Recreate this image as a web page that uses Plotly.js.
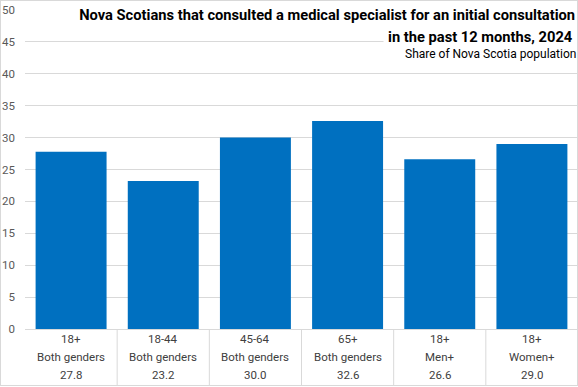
<!DOCTYPE html>
<html>
<head>
<meta charset="utf-8">
<script src="https://cdn.plot.ly/plotly-3.0.1.min.js"></script>
<style>
  html, body { margin: 0; padding: 0; background: #fff; }
  #wrap { position: relative; width: 578px; height: 387px; }
  #chart { width: 578px; height: 387px; }
  #frame { position: absolute; left: 0; top: 0; width: 578px; height: 386px; box-sizing: border-box; border: 1px solid #d9d9d9; pointer-events: none; }
</style>
</head>
<body>
<div id="wrap"><div id="chart"></div><div id="frame"></div></div>
<script>
// Data
const ageGroups = ["18+", "18-44", "45-64", "65+", "18+", "18+"];
const genders = ["Both genders", "Both genders", "Both genders", "Both genders", "Men+", "Women+"];
const shares = [27.8, 23.2, 30.0, 32.6, 26.6, 29.0];
const yTicks = [0, 5, 10, 15, 20, 25, 30, 35, 40, 45, 50];
const titleLine1 = "Nova Scotians that consulted a medical specialist for an initial consultation";
const titleLine2 = "in the past 12 months, 2024";
const subtitle = "Share of Nova Scotia population";

const cats = ageGroups.map((a, i) => a + " | " + genders[i]);

const fam = "Roboto, Arial, sans-serif";
const labelFont = { family: fam, size: 11.5, color: "#404040" };

const annotations = [];
cats.forEach((c, i) => {
  const rows = [ageGroups[i], genders[i], shares[i].toFixed(1)];
  const ys = [338.5, 357, 375];
  rows.forEach((t, r) => {
    annotations.push({
      xref: "x", yref: "paper", x: c, y: (329 - ys[r]) / 319,
      yanchor: "middle", xanchor: "center", text: t, showarrow: false,
      font: labelFont
    });
  });
});
annotations.push({
  xref: "paper", yref: "paper", x: 1, xanchor: "right", y: (329 - 37) / 319, yanchor: "middle",
  text: titleLine2, showarrow: false, bgcolor: "#ffffff", borderpad: 4,
  font: { family: fam, size: 14.7, color: "#000000", weight: "bold" }
});
annotations.push({
  xref: "paper", yref: "paper", x: 1, xanchor: "right", y: (329 - 53.5) / 319, yanchor: "middle",
  text: subtitle, showarrow: false,
  font: { family: fam, size: 12, color: "#000000" }
});

const shapes = [];
for (let k = 0; k < cats.length - 1; k++) {
  shapes.push({
    type: "line", xref: "x", yref: "paper", x0: k + 0.5, x1: k + 0.5,
    y0: 0, y1: (329 - 385) / 319, line: { color: "#d9d9d9", width: 1 }
  });
}
// white backing behind the first title line (hides gridline like the reference)
shapes.push({
  type: "rect", xref: "paper", yref: "paper", layer: "above",
  x0: (72 - 25) / 553, x1: 1, y0: (329 - 24) / 319, y1: (329 - 2) / 319,
  fillcolor: "#ffffff", line: { width: 0 }
});

const trace = {
  type: "bar", x: cats, y: shares,
  marker: { color: "#0070C0" },
  hoverinfo: "none"
};

const layout = {
  width: 578, height: 387,
  margin: { l: 25, r: 0, t: 10, b: 58 },
  paper_bgcolor: "#ffffff", plot_bgcolor: "#ffffff",
  showlegend: false,
  bargap: 0.23,
  title: {
    text: titleLine1, x: 0.995, xanchor: "right", xref: "container",
    y: 1 - 15 / 387, yref: "container", yanchor: "middle",
    font: { family: fam, size: 14.7, color: "#000000", weight: "bold" }
  },
  xaxis: {
    type: "category", range: [-0.5, 5.5], showticklabels: false,
    showgrid: false, zeroline: false, showline: true, linecolor: "#d9d9d9", linewidth: 1,
    fixedrange: true
  },
  yaxis: {
    range: [0, 50], tickvals: yTicks, ticktext: yTicks.map(String),
    showgrid: true, gridcolor: "#d9d9d9", gridwidth: 1, zeroline: false, showline: false,
    ticks: "", ticklabelstandoff: 9,
    tickfont: { family: fam, size: 11.5, color: "#595959" },
    fixedrange: true
  },
  annotations: annotations,
  shapes: shapes
};

Plotly.newPlot("chart", [trace], layout, { displayModeBar: false, staticPlot: true });
</script>
</body>
</html>
